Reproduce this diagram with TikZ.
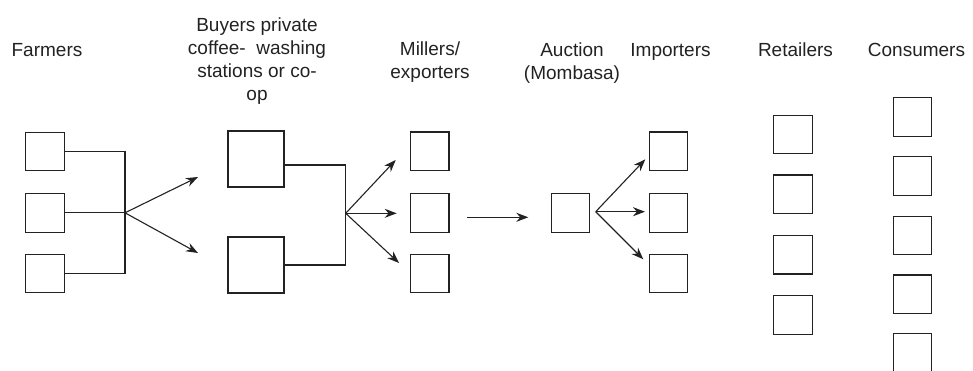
\documentclass[tikz,border=0pt]{standalone}
\usepackage{fontspec}
\setmainfont{Liberation Sans}
\usetikzlibrary{arrows.meta}
\definecolor{ink}{HTML}{222222}
\tikzset{
  box/.style={draw=ink, line width=1.1pt, minimum width=38.5pt, minimum height=38.5pt, inner sep=0pt},
  bigbox/.style={draw=ink, line width=1.1pt, minimum width=56pt, minimum height=56pt, inner sep=0pt},
  link/.style={draw=ink, line width=1.1pt},
  arr/.style={draw=ink, line width=1.1pt, -{Stealth[length=12pt,width=9pt]}},
  lbl/.style={text=ink, font=\fontsize{19}{23}\selectfont, align=center, inner sep=0pt, anchor=base}
}
\begin{document}
\begin{tikzpicture}[x=1pt,y=-1pt]
\useasboundingbox (0,0) rectangle (973,370);
\clip (0,0) rectangle (973,370);
% labels (anchored at the baseline of their last line)
\node[lbl] (lf) at (47,56) {Farmers};
\node[lbl] (lb) at (257,100) {Buyers private\\coffee-\ \ washing\\stations or co-\\op};
\node[lbl] (lm) at (430,78.5) {Millers/\\exporters};
\node[lbl] (la) at (572,79.5) {Auction\\(Mombasa)};
\node[lbl] (li) at (670.5,56) {Importers};
\node[lbl] (lr) at (795.5,56) {Retailers};
\node[lbl] (lc) at (916.5,56) {Consumers};
% farmers
\node[box] (f1) at (44.8,151.5) {};
\node[box] (f2) at (44.8,212.8) {};
\node[box] (f3) at (44.8,273.5) {};
% buyers
\node[bigbox] (b1) at (256,159) {};
\node[bigbox] (b2) at (256,265) {};
% millers
\node[box] (m1) at (429.7,151.2) {};
\node[box] (m2) at (429.7,212.8) {};
\node[box] (m3) at (429.7,273.3) {};
% auction
\node[box] (a1) at (570.3,212.8) {};
% importers
\node[box] (i1) at (668.3,151.2) {};
\node[box] (i2) at (668.3,212.8) {};
\node[box] (i3) at (668.3,273.3) {};
% retailers
\node[box] (r1) at (793,134.3) {};
\node[box] (r2) at (793,194.2) {};
\node[box] (r3) at (793,254.7) {};
\node[box] (r4) at (793,314.8) {};
% consumers
\node[box] (c1) at (912.5,116.8) {};
\node[box] (c2) at (912.5,176) {};
\node[box] (c3) at (912.5,235.3) {};
\node[box] (c4) at (912.5,294.2) {};
\node[box] (c5) at (912.5,353) {};
% junctions and free ends
\coordinate (j1) at (125,212.8);
\coordinate (j2) at (345.7,213.3);
\coordinate (j3) at (595.7,211.7);
\coordinate (t1) at (198,177);
\coordinate (t2) at (198,253);
\coordinate (t3) at (395.7,160);
\coordinate (t4) at (396.7,213.3);
\coordinate (t5) at (399,263);
\coordinate (s6) at (467.3,217.3);
\coordinate (t6) at (528.3,217.3);
\coordinate (t7) at (645.3,159.3);
\coordinate (t8) at (645,211.7);
\coordinate (t9) at (643.3,259.3);
% farmer connectors
\draw[link] (f1.east) -| (j1);
\draw[link] (f3.east) -| (j1);
\draw[link] (f2.east) -- (j1);
\draw[arr] (j1) -- (t1);
\draw[arr] (j1) -- (t2);
% buyer connectors
\draw[link] ([yshift=-6pt]b1.east) -| (j2);
\draw[link] (b2.east) -| (j2);
\draw[arr] (j2) -- (t3);
\draw[arr] (j2) -- (t4);
\draw[arr] (j2) -- (t5);
% millers to auction
\draw[arr] (s6) -- (t6);
% auction to importers
\draw[arr] (j3) -- (t7);
\draw[arr] (j3) -- (t8);
\draw[arr] (j3) -- (t9);
\end{tikzpicture}
\end{document}
